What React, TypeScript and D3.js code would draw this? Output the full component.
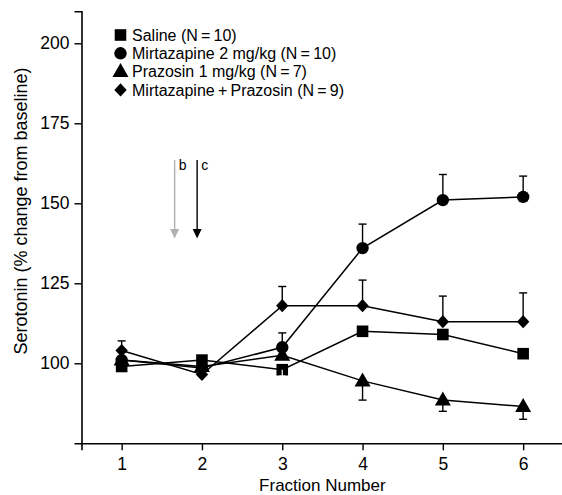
import React, { useRef, useEffect } from 'react';
import * as d3 from 'd3';

// fractions on the x axis
const fractions = [1, 2, 3, 4, 5, 6];

// mean values per group (% change from baseline)
const saline = [99, 101, 98, 110, 109, 103];
const mirtazapine = [101, 98.5, 105, 136, 151, 152];
const prazosin = [101, 99, 102.5, 94.5, 88.5, 86.5];
const combo = [104, 96.5, 118, 118, 113, 113];

// error bar ends (null = no bar visible)
const salineErr = [null, null, 96, null, null, null];
const mirtazapineErr = [null, null, 109.5, 143.5, 159, 158.5];
const prazosinErr = [null, null, null, 88.5, 85, 82.5];
const comboErr = [107, null, 124, 126, 121, 122];

const yTicks = [100, 125, 150, 175, 200];

const legendLabels = [
  'Saline (N\u2009=\u200910)',
  'Mirtazapine 2 mg/kg (N\u2009=\u200910)',
  'Prazosin 1 mg/kg (N\u2009=\u20097)',
  'Mirtazapine\u2009+\u2009Prazosin (N\u2009=\u20099)',
];

// drug administration arrows: [fraction position, label, colour]
const arrows: [number, string, string][] = [
  [1.66, 'b', '#b0b0b0'],
  [1.94, 'c', '#000'],
];

const FONT = '"Liberation Sans", Arial, Helvetica, sans-serif';

const markerPath = (shape: string) => {
  const p = d3.path();
  if (shape === 'square') {
    p.rect(-5.8, -5.8, 11.6, 11.6);
  } else if (shape === 'circle') {
    p.arc(0, 0, 6.2, 0, Math.PI * 2);
  } else if (shape === 'triangle') {
    p.moveTo(0, -8.5);
    p.lineTo(8, 5.5);
    p.lineTo(-8, 5.5);
    p.closePath();
  } else {
    p.moveTo(0, -6.6);
    p.lineTo(6.2, 0);
    p.lineTo(0, 6.6);
    p.lineTo(-6.2, 0);
    p.closePath();
  }
  return p.toString();
};

const D3Chart = () => {
  const svgRef = useRef<SVGSVGElement>(null);

  useEffect(() => {
    const svg = d3.select(svgRef.current);
    svg.selectAll('*').remove();

    const x = d3.scaleLinear().domain([0.5, 6.5]).range([81.5, 563.3]);
    const y = d3.scaleLinear().domain([75, 210]).range([443.3, 11.3]);

    const g = svg.append('g').attr('font-family', FONT);

    // axes
    const yAxis = g.append('g')
      .attr('transform', `translate(${x(0.5)},0)`)
      .call(d3.axisLeft(y).tickValues(yTicks).tickSize(7).tickPadding(5));
    const xAxis = g.append('g')
      .attr('transform', `translate(0,${y(75)})`)
      .call(d3.axisBottom(x).tickValues(fractions).tickFormat(d3.format('d')).tickSize(7).tickPadding(7));

    [yAxis, xAxis].forEach(ax => {
      ax.select('.domain').attr('stroke', '#000').attr('stroke-width', 1.6);
      ax.selectAll('.tick line').attr('stroke', '#000').attr('stroke-width', 1.4);
      ax.selectAll('.tick text')
        .attr('font-size', 17.5)
        .attr('font-family', FONT)
        .attr('fill', '#000');
    });

    // axis titles
    g.append('text')
      .attr('x', (x(0.5) + x(6.5)) / 2)
      .attr('y', 491)
      .attr('text-anchor', 'middle')
      .attr('font-size', 17)
      .text('Fraction Number');

    g.append('text')
      .attr('transform', 'translate(27,211) rotate(-90)')
      .attr('text-anchor', 'middle')
      .attr('font-size', 18)
      .text('Serotonin (% change from baseline)');

    // arrows
    arrows.forEach(([pos, label, color]) => {
      const ax = x(pos);
      g.append('line')
        .attr('x1', ax).attr('x2', ax)
        .attr('y1', y(163.5)).attr('y2', y(142))
        .attr('stroke', color).attr('stroke-width', 1.4);
      g.append('path')
        .attr('d', `M${ax - 4.5},${y(142)} L${ax + 4.5},${y(142)} L${ax},${y(139)} Z`)
        .attr('fill', color);
      g.append('text')
        .attr('x', ax + 4)
        .attr('y', y(163.5) + 10)
        .attr('font-size', 14)
        .text(label);
    });

    const series = [
      { values: saline, err: salineErr, shape: 'square', errColor: '#fff' },
      { values: mirtazapine, err: mirtazapineErr, shape: 'circle', errColor: '#000' },
      { values: prazosin, err: prazosinErr, shape: 'triangle', errColor: '#000' },
      { values: combo, err: comboErr, shape: 'diamond', errColor: '#000' },
    ];

    const line = d3.line<number>()
      .x((d, i) => x(fractions[i]))
      .y(d => y(d));

    // lines and error bars first
    series.forEach(s => {
      g.append('path')
        .datum(s.values)
        .attr('fill', 'none')
        .attr('stroke', '#000')
        .attr('stroke-width', 1.5)
        .attr('d', line);
      if (s.errColor !== '#000') return;
      s.err.forEach((e, i) => {
        if (e == null) return;
        const cx = x(fractions[i]);
        g.append('line')
          .attr('x1', cx).attr('x2', cx)
          .attr('y1', y(s.values[i])).attr('y2', y(e))
          .attr('stroke', '#000').attr('stroke-width', 1.4);
        g.append('line')
          .attr('x1', cx - 4).attr('x2', cx + 4)
          .attr('y1', y(e)).attr('y2', y(e))
          .attr('stroke', '#000').attr('stroke-width', 1.4);
      });
    });

    // markers on top
    series.forEach(s => {
      g.selectAll(null)
        .data(s.values)
        .enter()
        .append('path')
        .attr('transform', (d, i) => `translate(${x(fractions[i])},${y(d)})`)
        .attr('d', markerPath(s.shape))
        .attr('fill', '#000');
      if (s.errColor === '#000') return;
      // white error bar drawn over the marker
      s.err.forEach((e, i) => {
        if (e == null) return;
        const cx = x(fractions[i]);
        g.append('line')
          .attr('x1', cx).attr('x2', cx)
          .attr('y1', y(s.values[i])).attr('y2', y(e))
          .attr('stroke', s.errColor).attr('stroke-width', 1.2);
        g.append('line')
          .attr('x1', cx - 3).attr('x2', cx + 3)
          .attr('y1', y(e)).attr('y2', y(e))
          .attr('stroke', s.errColor).attr('stroke-width', 1.2);
      });
    });

    // legend
    const shapes = ['square', 'circle', 'triangle', 'diamond'];
    const legend = g.append('g');
    legendLabels.forEach((label, i) => {
      const ly = 35 + i * 18.3;
      legend.append('path')
        .attr('transform', `translate(120.5,${ly})`)
        .attr('d', markerPath(shapes[i]))
        .attr('fill', '#000');
      legend.append('text')
        .attr('x', 132)
        .attr('y', ly)
        .attr('dy', '0.35em')
        .attr('font-size', 16)
        .text(label);
    });
  }, []);

  return (
    <svg
      ref={svgRef}
      width={562}
      height={495}
      style={{ position: 'absolute', left: 0, top: 0, background: '#fff' }}
    />
  );
};

export default function App() {
  return <D3Chart />;
}
